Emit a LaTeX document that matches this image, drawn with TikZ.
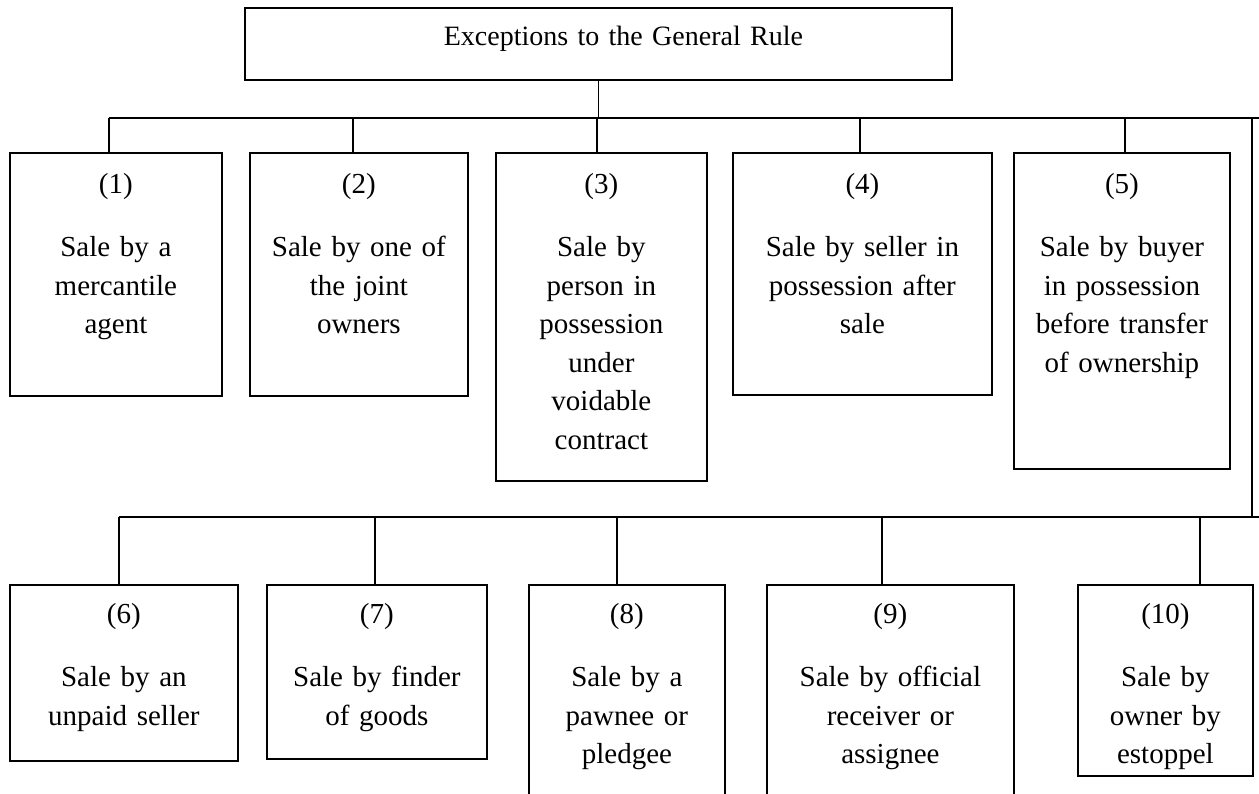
\documentclass[tikz,border=0pt]{standalone}
\usepackage{fontspec}
\setmainfont{Liberation Serif}
\usetikzlibrary{positioning}

\begin{document}
\begin{tikzpicture}[x=0.5pt, y=-0.5pt, line width=0.9pt,
  exbox/.style={draw, rectangle, inner sep=0pt, align=center, anchor=north west,
    font=\fontsize{14.5}{19.25}\selectfont},
  toprow/.style={text height=20.5pt},
  lowrow/.style={text height=19.5pt}]
\useasboundingbox (0,0) rectangle (1259,793);

\node[exbox, font=\fontsize{14}{19}\selectfont, text width=353.5pt, text height=19pt, text depth=17pt] (rule) at (244,7) {\hspace*{25pt}Exceptions to the General Rule};

% first row
\node[exbox, toprow, text width=106pt, text depth=101pt]   (e1) at (9,152)    {(1)\\[12.25pt]Sale by a\\mercantile\\agent};
\node[exbox, toprow, text width=109pt, text depth=101pt]   (e2) at (249,152)  {(2)\\[12.25pt]Sale by one of\\the joint\\owners};
\node[exbox, toprow, text width=105.5pt, text depth=143.5pt] (e3) at (495,152) {(3)\\[12.25pt]Sale by\\person in\\possession\\under\\voidable\\contract};
\node[exbox, toprow, text width=129.5pt, text depth=100.5pt] (e4) at (732,152) {(4)\\[12.25pt]Sale by seller in\\possession after\\sale};
\node[exbox, toprow, text width=108pt, text depth=137.5pt] (e5) at (1013,152) {(5)\\[12.25pt]Sale by buyer\\in possession\\before transfer\\of ownership};

% second row
\node[exbox, lowrow, text width=114pt, text depth=68.5pt]  (e6) at (9,584)    {(6)\\[12.25pt]Sale by an\\unpaid seller};
\node[exbox, lowrow, text width=110pt, text depth=67.5pt]  (e7) at (266,584)  {(7)\\[12.25pt]Sale by finder\\of goods};
\node[exbox, lowrow, text width=98pt, text depth=93.5pt]   (e8) at (528,584)  {(8)\\[12.25pt]Sale by a\\pawnee or\\pledgee};
\node[exbox, lowrow, text width=123.5pt, text depth=93.5pt] (e9) at (766,584) {(9)\\[12.25pt]Sale by official\\receiver or\\assignee};
\node[exbox, lowrow, text width=87.5pt, text depth=76pt]   (e10) at (1077,584) {(10)\\[12.25pt]Sale by\\owner by\\estoppel};

% bus lines
\coordinate (a1) at (109,118);
\coordinate (a2) at (353,118);
\coordinate (a3) at (597,118);
\coordinate (a4) at (860,118);
\coordinate (a5) at (1125,118);
\coordinate (aend) at (1259,118);
\coordinate (b6) at (119,517);
\coordinate (b7) at (375,517);
\coordinate (b8) at (617,517);
\coordinate (b9) at (882,517);
\coordinate (b10) at (1200,517);
\coordinate (bend) at (1259,517);
\coordinate (riseA) at (1252,118);
\coordinate (riseB) at (1252,517);

\draw (rule.south) -- (rule.south |- a1);
\draw (a1) -- (aend);
\draw (b6) -- (bend);
\draw (riseA) -- (riseB);
\foreach \s/\t in {a1/e1, a2/e2, a3/e3, a4/e4, a5/e5, b6/e6, b7/e7, b8/e8, b9/e9, b10/e10}
  \draw (\s) -- (\s |- \t.north);
\end{tikzpicture}
\end{document}
